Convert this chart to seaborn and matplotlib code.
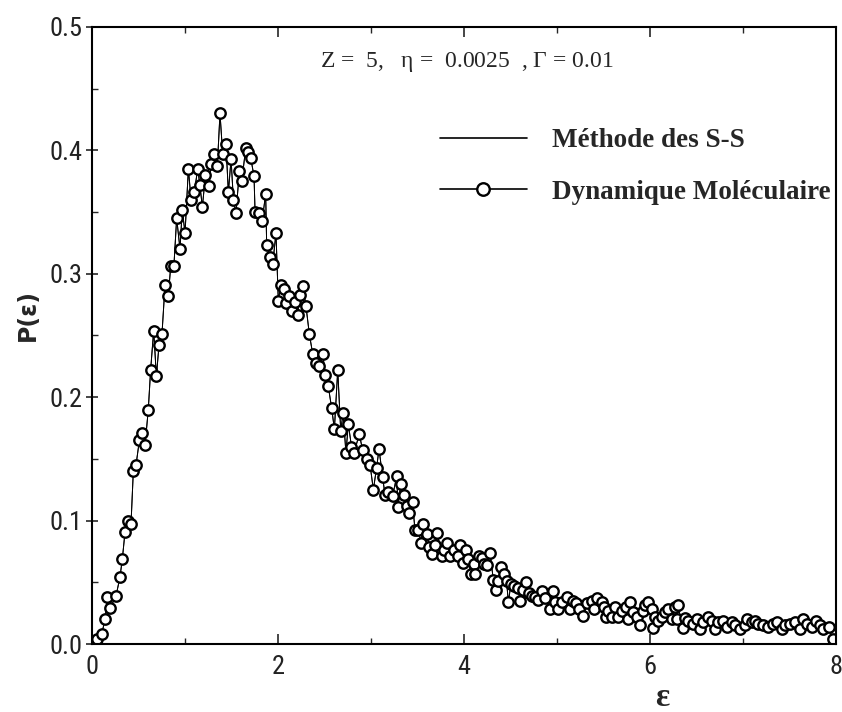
import matplotlib
matplotlib.use("Agg")
import matplotlib.pyplot as plt
from matplotlib import font_manager
from matplotlib.ticker import MultipleLocator, FormatStrFormatter
import numpy as np
import pandas as pd
import seaborn as sns

# Energy distribution P(eps): energy values and probabilities
eps = [
    0.000, 0.050, 0.104, 0.140, 0.165, 0.194, 0.258, 0.300, 0.326, 0.355,
    0.384, 0.419, 0.444, 0.473, 0.509, 0.538, 0.570, 0.605, 0.630, 0.663,
    0.692, 0.720, 0.752, 0.785, 0.820, 0.846, 0.880, 0.910, 0.946, 0.970,
    1.000, 1.036, 1.065, 1.100, 1.136, 1.160, 1.186, 1.220, 1.258, 1.280,
    1.315, 1.347, 1.376, 1.405, 1.440, 1.466, 1.495, 1.520, 1.548, 1.584,
    1.610, 1.653, 1.680, 1.706, 1.742, 1.753, 1.800, 1.830, 1.867, 1.878,
    1.914, 1.943, 1.978, 2.003, 2.030, 2.065, 2.090, 2.120, 2.147, 2.180,
    2.210, 2.237, 2.265, 2.300, 2.337, 2.373, 2.410, 2.444, 2.480, 2.510,
    2.540, 2.577, 2.606, 2.642, 2.674, 2.700, 2.730, 2.756, 2.790, 2.817,
    2.874, 2.910, 2.960, 2.990, 3.025, 3.060, 3.086, 3.125, 3.150, 3.186,
    3.233, 3.276, 3.290, 3.320, 3.355, 3.384, 3.410, 3.446, 3.473, 3.510,
    3.537, 3.560, 3.600, 3.627, 3.660, 3.690, 3.713, 3.760, 3.785, 3.814,
    3.850, 3.890, 3.930, 3.957, 3.986, 4.020, 4.046, 4.070, 4.110, 4.120,
    4.165, 4.190, 4.215, 4.244, 4.280, 4.315, 4.344, 4.370, 4.400, 4.430,
    4.457, 4.477, 4.505, 4.537, 4.584, 4.600, 4.630, 4.663, 4.700, 4.728,
    4.763, 4.800, 4.835, 4.870, 4.925, 4.953, 4.978, 5.014, 5.050, 5.104,
    5.140, 5.175, 5.204, 5.240, 5.283, 5.320, 5.373, 5.400, 5.427, 5.480,
    5.500, 5.527, 5.552, 5.588, 5.624, 5.660, 5.695, 5.742, 5.767, 5.785,
    5.820, 5.857, 5.892, 5.920, 5.946, 5.982, 6.018, 6.030, 6.054, 6.090,
    6.126, 6.160, 6.197, 6.233, 6.270, 6.287, 6.300, 6.350, 6.376, 6.410,
    6.466, 6.500, 6.538, 6.573, 6.627, 6.663, 6.700, 6.734, 6.790, 6.825,
    6.878, 6.914, 6.968, 7.020, 7.046, 7.093, 7.130, 7.165, 7.220, 7.270,
    7.320, 7.360, 7.416, 7.450, 7.505, 7.560, 7.613, 7.640, 7.685, 7.740,
    7.790, 7.830, 7.860, 7.920, 7.965,
]
p_eps = [
    0.001, 0.004, 0.008, 0.020, 0.038, 0.029, 0.039, 0.054, 0.069, 0.091,
    0.100, 0.097, 0.140, 0.145, 0.165, 0.171, 0.161, 0.190, 0.222, 0.254,
    0.217, 0.242, 0.251, 0.291, 0.282, 0.306, 0.306, 0.345, 0.320, 0.352,
    0.333, 0.385, 0.360, 0.366, 0.385, 0.372, 0.354, 0.380, 0.371, 0.389,
    0.397, 0.387, 0.430, 0.397, 0.405, 0.366, 0.393, 0.360, 0.349, 0.383,
    0.375, 0.402, 0.399, 0.394, 0.379, 0.350, 0.349, 0.343, 0.365, 0.323,
    0.314, 0.308, 0.333, 0.278, 0.291, 0.288, 0.276, 0.282, 0.270, 0.277,
    0.267, 0.283, 0.290, 0.274, 0.251, 0.235, 0.228, 0.225, 0.235, 0.218,
    0.209, 0.191, 0.174, 0.222, 0.173, 0.187, 0.155, 0.178, 0.160, 0.155,
    0.170, 0.157, 0.150, 0.145, 0.125, 0.143, 0.158, 0.135, 0.121, 0.123,
    0.120, 0.136, 0.111, 0.130, 0.121, 0.112, 0.106, 0.115, 0.092, 0.092,
    0.082, 0.097, 0.089, 0.079, 0.073, 0.080, 0.090, 0.071, 0.076, 0.082,
    0.071, 0.076, 0.071, 0.080, 0.066, 0.076, 0.069, 0.057, 0.065, 0.057,
    0.071, 0.070, 0.065, 0.064, 0.074, 0.052, 0.044, 0.051, 0.062, 0.057,
    0.051, 0.034, 0.049, 0.047, 0.045, 0.035, 0.044, 0.050, 0.041, 0.039,
    0.038, 0.036, 0.043, 0.037, 0.028, 0.043, 0.034, 0.028, 0.034, 0.038,
    0.028, 0.035, 0.033, 0.028, 0.023, 0.033, 0.035, 0.028, 0.037, 0.034,
    0.030, 0.022, 0.027, 0.022, 0.030, 0.022, 0.027, 0.030, 0.020, 0.034,
    0.026, 0.022, 0.015, 0.027, 0.032, 0.034, 0.028, 0.013, 0.022, 0.019,
    0.022, 0.026, 0.028, 0.020, 0.030, 0.020, 0.032, 0.013, 0.021, 0.019,
    0.016, 0.020, 0.012, 0.018, 0.022, 0.019, 0.012, 0.018, 0.019, 0.014,
    0.018, 0.015, 0.012, 0.015, 0.020, 0.018, 0.019, 0.016, 0.015, 0.014,
    0.016, 0.018, 0.012, 0.015, 0.016, 0.018, 0.012, 0.020, 0.016, 0.014,
    0.019, 0.015, 0.012, 0.014, 0.004,
]

label_ss = "Méthode des S-S"
label_md = "Dynamique Moléculaire"
params_text = r"Z =  5,   $\eta$ =  0.0025  , $\Gamma$ = 0.01"

df = pd.DataFrame({"eps": eps, "P": p_eps})

sns.set_style("ticks")
plt.rcParams["mathtext.fontset"] = "custom"
plt.rcParams["mathtext.rm"] = "Liberation Serif"
plt.rcParams["mathtext.it"] = "Liberation Serif"

names = {f.name for f in font_manager.fontManager.ttflist}
tick_family = "DejaVu Sans"
for cand in ["Liberation Sans Narrow", "Roboto Condensed", "Open Sans Condensed"]:
    if cand in names:
        tick_family = cand
        break

fig = plt.figure(figsize=(8.42, 7.12), dpi=100)
ax = fig.add_axes([0.1093, 0.0955, 0.8836, 0.8666])

sns.lineplot(data=df, x="eps", y="P", ax=ax, color="black", linewidth=0.7,
             estimator=None, label=label_ss)
sns.lineplot(data=df, x="eps", y="P", ax=ax, color="black", linewidth=0.7,
             estimator=None, marker="o", markersize=7.5, markerfacecolor="white",
             markeredgecolor="black", markeredgewidth=1.7, label=label_md)

ax.set_xlim(0, 8)
ax.set_ylim(0, 0.5)
ax.xaxis.set_major_locator(MultipleLocator(2))
ax.xaxis.set_minor_locator(MultipleLocator(1))
ax.yaxis.set_major_locator(MultipleLocator(0.1))
ax.yaxis.set_minor_locator(MultipleLocator(0.05))
ax.yaxis.set_major_formatter(FormatStrFormatter("%.1f"))
ax.xaxis.set_major_formatter(FormatStrFormatter("%d"))

for side in ["left", "bottom", "top", "right"]:
    ax.spines[side].set_visible(True)
    ax.spines[side].set_color("black")
    ax.spines[side].set_linewidth(1.5)

ax.tick_params(axis="x", which="major", direction="in", length=7, width=1.2,
               top=True, pad=8)
ax.tick_params(axis="x", which="minor", direction="in", length=4, width=1.0,
               top=True)
ax.tick_params(axis="y", which="major", direction="inout", length=8, width=1.2,
               pad=3)
ax.tick_params(axis="y", which="minor", direction="in", length=4, width=1.0)
for lab in ax.get_xticklabels() + ax.get_yticklabels():
    lab.set_fontfamily(tick_family)
    lab.set_fontsize(19)
    lab.set_color("#222222")

ax.set_xlabel("")
ax.set_ylabel("")
fig.text(27.5 / 842, 1 - 315 / 712, "P(ε)", rotation=90, ha="center",
         va="center", fontsize=17, fontweight="bold", family="DejaVu Sans")
fig.text(662 / 842, 1 - 698 / 712, "ε", ha="center", va="center",
         fontsize=24, fontweight="bold", family="Liberation Serif")

ax.text(320 / 842, 1 - 62 / 712, params_text, transform=fig.transFigure,
        ha="left", va="center", fontsize=17, family="Liberation Serif")

leg = ax.legend(loc="upper left", bbox_to_anchor=(440 / 842, 1 - 128 / 712),
                bbox_transform=fig.transFigure, frameon=False, numpoints=1,
                handlelength=3.2, handletextpad=0.95, labelspacing=0.98,
                borderpad=0, borderaxespad=0,
                prop={"family": "Liberation Serif", "weight": "bold", "size": 19.5})
for h in leg.legend_handles:
    h.set_linewidth(1.2)
leg.legend_handles[1].set_markersize(9)

fig.savefig("out.png", dpi=100)
